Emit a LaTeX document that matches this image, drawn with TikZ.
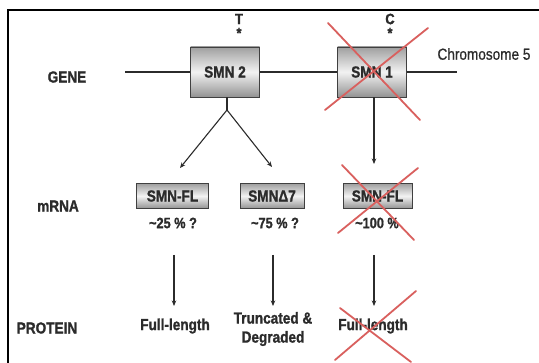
\documentclass[tikz,border=0pt]{standalone}
\usepackage{fontspec}
\setmainfont[FakeStretch=0.85, BoldFeatures={FakeBold=1.2}]{Liberation Sans}
\usetikzlibrary{arrows.meta}
\definecolor{ink}{HTML}{2B2B2B}
\definecolor{crossred}{HTML}{D9605E}
\begin{document}
\begin{tikzpicture}[x=1pt,y=-1pt,
  every node/.style={text=ink, font=\bfseries\fontsize{16}{18}\selectfont, inner sep=0pt},
  shadedbox/.style={draw=black!75, line width=0.9pt, top color=gray!75,
    bottom color=gray!85, middle color=gray!10},
  genebox/.style={shadedbox, minimum width=69pt, minimum height=50pt},
  rnabox/.style={shadedbox, minimum height=25pt},
  chrom/.style={draw=ink, line width=1.4pt},
  flow/.style={draw=ink, line width=1.1pt, -{Stealth[length=5.5pt,width=4.5pt]}},
  cross/.style={draw=crossred, line width=1.8pt, line cap=round},
  rowlabel/.style={anchor=center},
  small/.style={font=\bfseries\fontsize{15}{17}\selectfont}]
  \useasboundingbox (0,0) rectangle (539,363);
  \fill[white] (0,0) rectangle (539,363);

  % frame
  \draw[black, line width=1.8pt] (8,363) -- (8,10) -- (539,10);

  % row labels
  \node[rowlabel] (lgene) at (67,77) {GENE};
  \node[rowlabel] (lmrna) at (58,206) {mRNA};
  \node[rowlabel] (lprot) at (47,328) {PROTEIN};

  % genes on the chromosome
  \node[genebox] (smn2) at (225,72) {SMN 2};
  \node[genebox] (smn1) at (372,72) {SMN 1};
  \node[small] (t) at (239,19) {T};
  \node[small] (ts) at (239,33) {*};
  \node[small] (c) at (390,19) {C};
  \node[small] (cs) at (390,33) {*};
  \coordinate (chl) at (125,72);
  \coordinate (chr) at (457,72);
  \draw[chrom] (chl) -- (smn2);
  \draw[chrom] (smn2) -- (smn1);
  \draw[chrom] (smn1) -- (chr);
  \node[font=\fontsize{16}{18}\selectfont\addfontfeature{FakeBold=0.7}, text=ink] (chrlab) at (484,54) {Chromosome 5};

  % transcripts
  \node[rnabox, minimum width=72pt] (fl1) at (172.5,196) {SMN-FL};
  \node[rnabox, minimum width=64pt] (d7) at (272,196) {SMNΔ7};
  \node[rnabox, minimum width=69pt] (fl2) at (377.5,196) {SMN-FL};
  \node[small] (p1) at (173,223) {\textasciitilde25 \% ?};
  \node[small] (p2) at (275,223) {\textasciitilde75 \% ?};
  \node[small] (p3) at (377,223) {\textasciitilde100 \%};

  % splicing of SMN2
  \coordinate (split) at (227,110);
  \coordinate (a1) at (180,168);
  \coordinate (a2) at (272,167);
  \draw[flow, -] (smn2.south -| split) -- (split);
  \draw[flow] (split) -- (a1);
  \draw[flow] (split) -- (a2);
  \coordinate (a3) at (374,164);
  \draw[flow] (smn1.south -| a3) -- (a3);

  % proteins
  \node (pr1) at (175,326) {Full-length};
  \node[align=center, font=\bfseries\fontsize{16}{19}\selectfont] (pr2) at (273,329) {Truncated \&\\Degraded};
  \node (pr3) at (373,326) {Full-length};
  \coordinate (b1s) at (174,255); \coordinate (b1e) at (174,306);
  \coordinate (b2s) at (273,255); \coordinate (b2e) at (273,306);
  \coordinate (b3s) at (374,255); \coordinate (b3e) at (374,306);
  \draw[flow] (b1s) -- (b1e);
  \draw[flow] (b2s) -- (b2e);
  \draw[flow] (b3s) -- (b3e);

  % crossed-out SMN1 products
  \draw[cross] (328,23) -- (420,120);
  \draw[cross] (428,28) -- (325,110);
  \draw[cross] (342,165) -- (414,240);
  \draw[cross] (418,168) -- (338,233);
  \draw[cross] (340,308) -- (411,362);
  \draw[cross] (416,291) -- (335,360);
\end{tikzpicture}
\end{document}
